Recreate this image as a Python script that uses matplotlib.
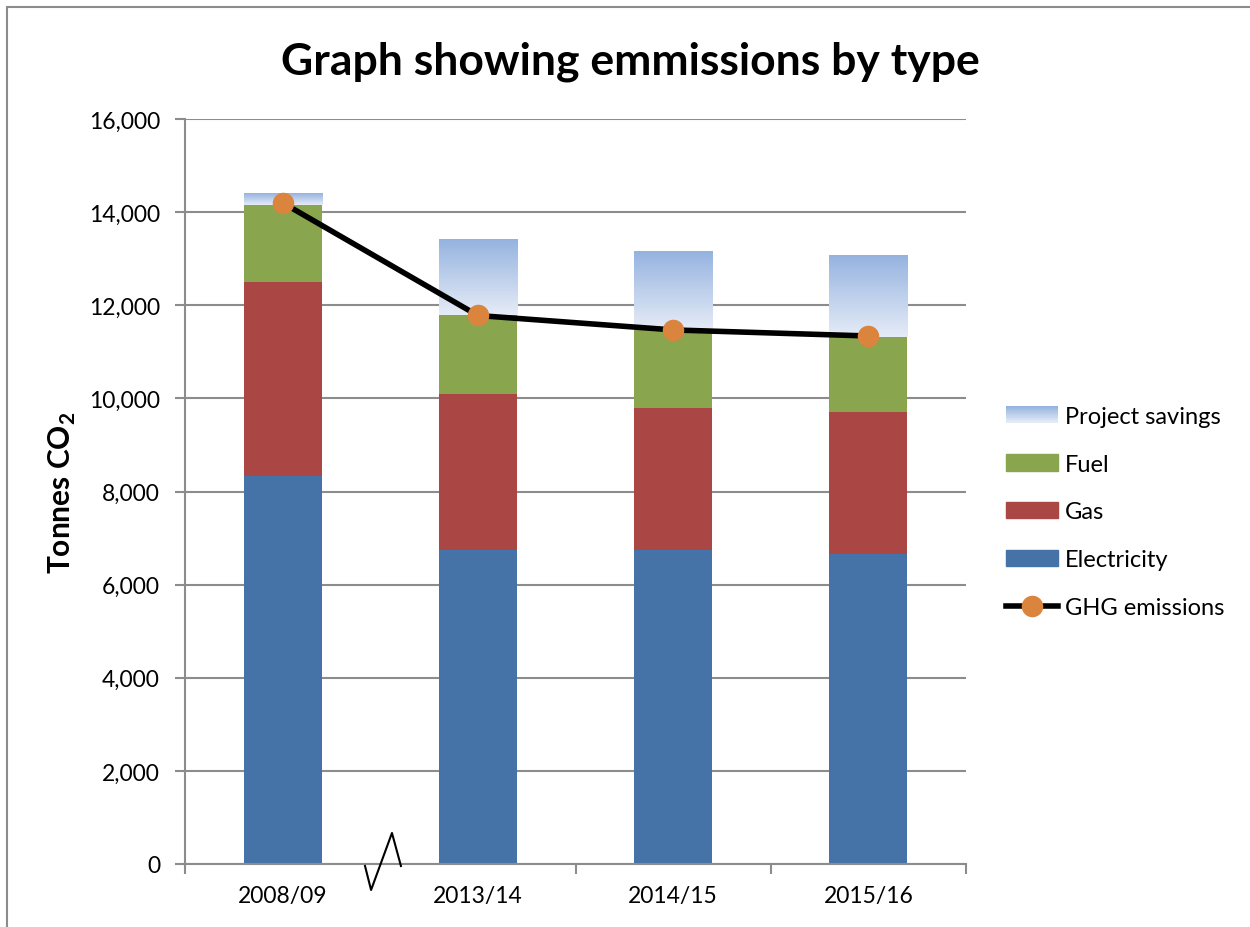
import numpy as np
import matplotlib
matplotlib.use("Agg")
import matplotlib.pyplot as plt
from matplotlib.patches import Patch, Rectangle
from matplotlib.lines import Line2D
from matplotlib.legend_handler import HandlerBase
from matplotlib.ticker import FuncFormatter
from matplotlib.colors import to_rgb

# data (tonnes CO2)
years = ["2008/09", "2013/14", "2014/15", "2015/16"]
electricity = [8330, 6740, 6740, 6660]
gas = [4170, 3360, 3050, 3050]
fuel = [1650, 1680, 1680, 1610]
savings = [240, 1620, 1680, 1740]
ghg = [14200, 11780, 11470, 11340]

plt.rcParams["font.family"] = ["Lato", "DejaVu Sans"]
plt.rcParams["mathtext.fontset"] = "custom"
plt.rcParams["mathtext.rm"] = "Lato"
plt.rcParams["mathtext.bf"] = "Lato:bold"

c_elec = "#4572A7"
c_gas = "#AA4643"
c_fuel = "#89A54E"
c_top = to_rgb("#95B3E0")
c_bot = to_rgb("#E6ECF7")
c_grid = "#8C8C8C"


def grad_colors(n):
    t = np.linspace(0, 1, n)[:, None]
    return np.array(c_top) * (1 - t) + np.array(c_bot) * t


class GradientHandler(HandlerBase):
    def create_artists(self, legend, orig_handle, xdescent, ydescent,
                       width, height, fontsize, trans):
        n = 20
        cols = grad_colors(n)
        arts = []
        for i in range(n):
            y = -ydescent + height * (n - 1 - i) / n
            r = Rectangle((-xdescent, y), width, height / n + 0.2,
                          facecolor=cols[i], edgecolor="none", transform=trans)
            arts.append(r)
        return arts


fig = plt.figure(figsize=(12.5, 9.28), dpi=100)
ax = fig.add_axes([185 / 1250, 1 - 865 / 928, (966 - 185) / 1250, (865 - 120) / 928])

x = np.arange(len(years))
w = 0.4
elec = np.array(electricity)
gs = np.array(gas)
fu = np.array(fuel)
sv = np.array(savings)

ax.bar(x, elec, w, color=c_elec, zorder=2)
ax.bar(x, gs, w, bottom=elec, color=c_gas, zorder=2)
ax.bar(x, fu, w, bottom=elec + gs, color=c_fuel, zorder=2)

img = grad_colors(256)[:, None, :]
base = elec + gs + fu
for xi, b, s in zip(x, base, sv):
    ax.imshow(img, extent=[xi - w / 2, xi + w / 2, b, b + s],
              aspect="auto", origin="upper", zorder=2, interpolation="bilinear")

ax.plot(x, ghg, color="black", lw=4, zorder=3,
        marker="o", markersize=14.5, markerfacecolor="#DB843D",
        markeredgecolor="#DB843D")

ax.set_xlim(-0.5, 3.5)
ax.set_ylim(0, 16000)
ax.set_yticks(np.arange(0, 16001, 2000))
ax.yaxis.set_major_formatter(FuncFormatter(lambda v, p: f"{int(v):,}"))
ax.grid(axis="y", color=c_grid, lw=1.5, zorder=0)
ax.set_axisbelow(True)

ax.set_xticks(x)
ax.set_xticklabels(years)
ax.set_xticks([-0.5, 1.5, 2.5, 3.5], minor=True)
ax.tick_params(axis="x", which="major", length=0, pad=15, labelsize=16.5)
ax.tick_params(axis="x", which="minor", length=7, width=1.5, color=c_grid, direction="out")
ax.tick_params(axis="y", length=7, width=1.5, color=c_grid, labelsize=16.5, pad=11)

for s in ["top", "right"]:
    ax.spines[s].set_visible(False)
for s in ["left", "bottom"]:
    ax.spines[s].set_color(c_grid)
    ax.spines[s].set_linewidth(1.5)

# axis break mark
bx = [0.422, 0.453, 0.560, 0.606]
by = [-43, -558, 666, -43]
ax.plot(bx, by, color="black", lw=1.5, clip_on=False, zorder=4)

ax.set_ylabel("Tonnes CO$_{\\mathbf{2}}$", fontsize=21.5, fontweight="bold")
ax.yaxis.set_label_coords(-0.137, 0.50)

fig.text(0.504, 1 - 62 / 928, "Graph showing emmissions by type",
         ha="center", va="center", fontsize=32, fontweight="bold")

# outer chart frame
fig.add_artist(Rectangle((7 / 1250, -0.2), 2, 1.2 - 8 / 928,
                         transform=fig.transFigure, fill=False,
                         edgecolor=c_grid, lw=1.5))

handles = [
    Patch(label="Project savings"),
    Patch(color=c_fuel, label="Fuel"),
    Patch(color=c_gas, label="Gas"),
    Patch(color=c_elec, label="Electricity"),
    Line2D([], [], color="black", lw=4, marker="o", markersize=14.5,
           markerfacecolor="#DB843D", markeredgecolor="#DB843D", label="GHG emissions"),
]
fig.legend(handles=handles, loc="upper left",
           bbox_to_anchor=(1006 / 1250, 1 - 407 / 928),
           frameon=False, fontsize=17, handlelength=2.2, handleheight=0.68,
           handletextpad=0.3, labelspacing=1.13, borderpad=0, borderaxespad=0,
           handler_map={handles[0]: GradientHandler()})

fig.savefig("out.png", dpi=100)
